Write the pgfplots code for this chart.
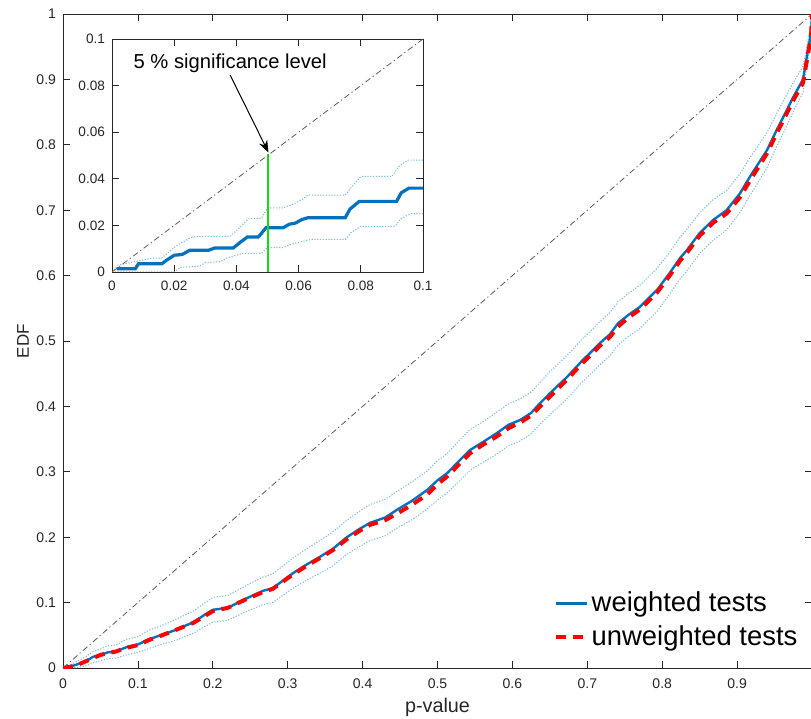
\documentclass[border=0pt]{standalone}
\usepackage{pgfplots}
\pgfplotsset{compat=1.18}
\usepackage{pgfplotstable}
\usepackage{fontspec}
\setmainfont{Liberation Sans}
\usetikzlibrary{arrows.meta}

\definecolor{mblue}{RGB}{0,114,189}
\definecolor{mred}{RGB}{255,0,0}
\definecolor{band}{RGB}{120,185,230}
\definecolor{diag}{RGB}{90,90,90}
\definecolor{axgray}{RGB}{38,38,38}
\definecolor{siggreen}{RGB}{20,220,20}

% EDF of p-values: weighted (w), unweighted (u), band (up, lo)
\pgfplotstableread{
x     w     u     up    lo
0     0     0     0     0
0.01  0.002 0.002 0.005 0
0.02  0.006 0.005 0.011 0.001
0.03  0.010 0.010 0.017 0.003
0.04  0.017 0.015 0.025 0.008
0.05  0.020 0.020 0.029 0.011
0.06  0.024 0.023 0.034 0.014
0.07  0.025 0.025 0.035 0.015
0.085 0.032 0.031 0.044 0.020
0.1   0.036 0.035 0.048 0.024
0.115 0.044 0.043 0.058 0.030
0.13  0.050 0.049 0.064 0.036
0.15  0.058 0.058 0.074 0.042
0.174 0.070 0.069 0.087 0.053
0.19  0.082 0.080 0.100 0.064
0.2   0.089 0.087 0.108 0.070
0.22  0.092 0.092 0.111 0.073
0.246 0.107 0.106 0.127 0.087
0.267 0.118 0.116 0.139 0.097
0.28  0.122 0.121 0.144 0.100
0.307 0.145 0.143 0.168 0.122
0.325 0.158 0.156 0.182 0.134
0.343 0.170 0.168 0.195 0.145
0.36  0.182 0.180 0.208 0.156
0.379 0.200 0.197 0.226 0.174
0.395 0.212 0.209 0.239 0.185
0.41  0.222 0.219 0.250 0.195
0.43  0.230 0.226 0.258 0.202
0.446 0.242 0.236 0.270 0.214
0.465 0.255 0.249 0.284 0.226
0.486 0.272 0.265 0.301 0.243
0.5   0.287 0.281 0.317 0.257
0.513 0.298 0.293 0.328 0.268
0.53  0.318 0.313 0.349 0.287
0.543 0.333 0.328 0.364 0.302
0.56  0.345 0.341 0.376 0.314
0.579 0.359 0.354 0.391 0.327
0.595 0.372 0.367 0.404 0.340
0.61  0.379 0.375 0.411 0.347
0.625 0.390 0.386 0.422 0.358
0.637 0.405 0.400 0.437 0.373
0.65  0.420 0.415 0.453 0.387
0.673 0.445 0.441 0.478 0.412
0.694 0.471 0.467 0.504 0.438
0.705 0.483 0.479 0.516 0.450
0.717 0.497 0.493 0.530 0.464
0.73  0.510 0.506 0.543 0.477
0.741 0.527 0.522 0.560 0.494
0.755 0.540 0.536 0.573 0.507
0.77  0.552 0.548 0.585 0.519
0.793 0.578 0.574 0.611 0.545
0.81  0.604 0.600 0.636 0.572
0.824 0.627 0.623 0.659 0.595
0.833 0.639 0.635 0.671 0.607
0.85  0.665 0.661 0.696 0.634
0.868 0.685 0.681 0.716 0.654
0.886 0.700 0.695 0.730 0.670
0.904 0.726 0.720 0.756 0.697
0.917 0.751 0.745 0.780 0.722
0.94  0.792 0.787 0.819 0.765
0.953 0.823 0.818 0.848 0.798
0.965 0.850 0.845 0.874 0.826
0.975 0.873 0.868 0.895 0.851
0.988 0.900 0.895 0.920 0.880
0.993 0.934 0.928 0.950 0.918
0.997 0.960 0.955 0.973 0.947
0.999 0.976 0.972 0.986 0.966
1     1     1     1     1
}\edf

% zoomed part, p < 0.1
\pgfplotstableread{
x      y
0.0016 0.0014
0.0075 0.0014
0.0085 0.0035
0.016  0.0035
0.0175 0.005
0.020  0.0072
0.0225 0.0075
0.025  0.0093
0.031  0.0093
0.033  0.0103
0.039  0.0103
0.041  0.0125
0.0435 0.015
0.047  0.015
0.048  0.0165
0.0495 0.019
0.055  0.019
0.057  0.0205
0.059  0.021
0.061  0.0225
0.063  0.0233
0.075  0.0233
0.0765 0.027
0.0795 0.0303
0.0915 0.0303
0.093  0.034
0.0955 0.036
0.1    0.036
}\zoomw

\pgfplotstableread{
x     y
0     0
0.002 0.003
0.004 0.0035
0.013 0.006
0.016 0.006
0.019 0.0095
0.021 0.0115
0.025 0.0145
0.027 0.0153
0.038 0.0153
0.041 0.019
0.044 0.023
0.048 0.023
0.05  0.0275
0.055 0.0275
0.058 0.029
0.061 0.031
0.063 0.033
0.075 0.033
0.078 0.038
0.08  0.041
0.09  0.041
0.092 0.045
0.095 0.048
0.1   0.048
}\zoomup

\pgfplotstableread{
x     y
0     0
0.02  0
0.022 0.002
0.028 0.0025
0.03  0.004
0.035 0.0045
0.037 0.006
0.042 0.008
0.048 0.008
0.05  0.0105
0.055 0.0105
0.058 0.012
0.064 0.014
0.075 0.014
0.077 0.017
0.08  0.0196
0.091 0.0196
0.093 0.023
0.096 0.025
0.1   0.025
}\zoomlo

\pgfplotsset{
  matlab/.style={
    scale only axis,
    axis line style={axgray, line width=0.4pt},
    every tick/.style={axgray, line width=0.4pt},
    major tick length=3.5pt,
    tick label style={font=\fontsize{7}{8}\selectfont, color=axgray},
    /pgf/number format/assume math mode=true,
    /pgf/number format/fixed,
    /pgf/number format/precision=2,
    axis background/.style={fill=white},
  },
  bandline/.style={band, line width=0.5pt, dash pattern=on 0.6pt off 0.8pt},
  diagline/.style={diag, line width=0.4pt, dash pattern=on 3pt off 1.5pt on 0.6pt off 1.5pt},
}

\begin{document}
\begin{tikzpicture}
\begin{axis}[
    matlab,
    width=374.5pt, height=327pt,
    xmin=0, xmax=1, ymin=0, ymax=1,
    xtick={0,0.1,0.2,0.3,0.4,0.5,0.6,0.7,0.8,0.9},
    ytick={0,0.1,0.2,0.3,0.4,0.5,0.6,0.7,0.8,0.9,1},
    xticklabel style={yshift=-2pt},
    xlabel={p-value},
    ylabel={EDF},
    xlabel style={at={(axis description cs:0.5,-0.0596)}, anchor=center,
                  font=\fontsize{9.9}{11}\selectfont, color=axgray},
    ylabel style={at={(axis description cs:-0.0534,0.5)}, anchor=center,
                  font=\fontsize{8.5}{10}\selectfont, color=axgray},
    legend style={draw=none, fill=none, at={(rel axis cs:0.985,0.026)}, anchor=south east,
                  font=\fontsize{13.7}{16}\selectfont, inner sep=0pt, row sep=3.5pt,
                  nodes={inner xsep=1.5pt, inner ysep=1pt}},
    legend cell align=left,
    legend image code/.code={\draw[#1] (0pt,0pt) -- (15.5pt,0pt);},
]
\addplot[bandline, forget plot] table[x=x, y=up] {\edf};
\addplot[bandline, forget plot] table[x=x, y=lo] {\edf};
\addplot[diagline, forget plot] coordinates {(0,0) (1,1)};
\addplot[mblue, line width=1.2pt] table[x=x, y=w] {\edf};
\addplot[mred, line width=2pt, dash pattern=on 5pt off 3.5pt] table[x=x, y=u] {\edf};
\legend{weighted tests, unweighted tests}
\coordinate (bl) at (rel axis cs:0,0);
\coordinate (tr) at (rel axis cs:1,1);
\end{axis}

\begin{axis}[
    matlab,
    at={(24.5pt,198pt)}, anchor=south west,
    width=155.5pt, height=116.5pt,
    xmin=0, xmax=0.1, ymin=0, ymax=0.1,
    xtick={0,0.02,0.04,0.06,0.08,0.1},
    ytick={0,0.02,0.04,0.06,0.08,0.1},
    tick label style={font=\fontsize{6.8}{8}\selectfont},
    xticklabel style={yshift=-1pt},
]
\addplot[bandline] table {\zoomup};
\addplot[bandline] table {\zoomlo};
\addplot[diagline] coordinates {(0,0) (0.1,0.1)};
\addplot[mblue, line width=1.6pt] table {\zoomw};
\addplot[draw=siggreen, line width=1pt] coordinates {(0.05,0) (0.05,0.0505)};
\draw[-{Stealth[length=6pt, width=4.5pt]}, line width=0.5pt, black]
    (axis cs:0.038,0.0845) -- (axis cs:0.0503,0.0513);
\node[font=\fontsize{10.1}{12}\selectfont, text=black] at (axis cs:0.038,0.0895)
    {5 \% significance level};
\end{axis}

\pgfresetboundingbox
\path[use as bounding box] ([shift={(-31.5pt,-25pt)}]bl) rectangle ([shift={(-0.5pt,7pt)}]tr);
\end{tikzpicture}
\end{document}
